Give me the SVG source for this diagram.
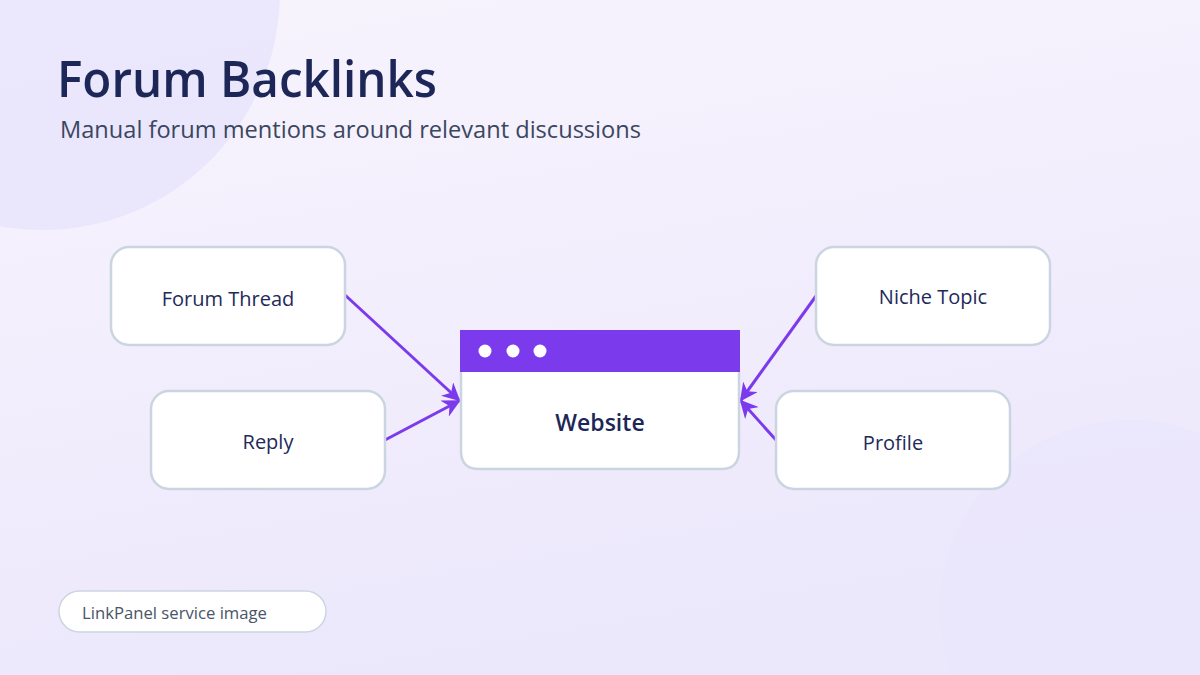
<svg xmlns="http://www.w3.org/2000/svg" width="1200" height="675" viewBox="0 0 1200 675">
<defs>
<linearGradient id="bg" x1="0" y1="0" x2="0.3" y2="1">
<stop offset="0" stop-color="#f8f4fd"/>
<stop offset="1" stop-color="#ece8fc"/>
</linearGradient>
<marker id="arr" viewBox="0 0 10 10" refX="9" refY="5" markerWidth="6" markerHeight="6" orient="auto" markerUnits="strokeWidth">
<path d="M0,0 L10,5 L0,10 L3,5 Z" fill="#7c3aed"/>
</marker>
<style>
.box{fill:#ffffff;stroke:#cbd5e1;stroke-width:2.5}
.lbl{font-family:"Open Sans","Noto Sans",sans-serif;font-size:20px;fill:#1e2a5a;text-anchor:middle}
.conn{stroke:#7c3aed;stroke-width:3;fill:none;marker-end:url(#arr)}
</style>
</defs>
<rect width="1200" height="675" fill="url(#bg)"/>
<circle cx="42" cy="-8" r="238" fill="#e9e5fd" opacity="0.9"/>
<circle cx="1130" cy="610" r="190" fill="#e9e4fc" opacity="0.6"/>
<text x="57" y="97" font-family="'Open Sans','Noto Sans',sans-serif" font-size="50" font-weight="600" fill="#1c2757" textLength="380" lengthAdjust="spacingAndGlyphs">Forum Backlinks</text>
<text x="60" y="138" font-family="'Open Sans','Noto Sans',sans-serif" font-size="23" fill="#3b4660" textLength="581" lengthAdjust="spacingAndGlyphs">Manual forum mentions around relevant discussions</text>
<g id="connectors">
<line class="conn" x1="345" y1="295" x2="459" y2="400"/>
<line class="conn" x1="385" y1="440" x2="459" y2="401"/>
<line class="conn" x1="816" y1="296" x2="741" y2="400"/>
<line class="conn" x1="776" y1="440" x2="741" y2="401"/>
</g>
<g id="forum-thread">
<rect class="box" x="111" y="247" width="234" height="98" rx="18"/>
<text class="lbl" x="228" y="306">Forum Thread</text>
</g>
<g id="reply">
<rect class="box" x="151" y="391" width="234" height="98" rx="18"/>
<text class="lbl" x="268" y="449">Reply</text>
</g>
<g id="niche-topic">
<rect class="box" x="816" y="247" width="234" height="98" rx="18"/>
<text class="lbl" x="933" y="304">Niche Topic</text>
</g>
<g id="profile">
<rect class="box" x="776" y="391" width="234" height="98" rx="18"/>
<text class="lbl" x="893" y="450">Profile</text>
</g>
<g id="website">
<path d="M461,372 L461,451 Q461,469 479,469 L721,469 Q739,469 739,451 L739,372" fill="#ffffff" stroke="#cbd5e1" stroke-width="2.5"/>
<rect x="460" y="330" width="280" height="42" fill="#7c3aed"/>
<circle cx="485" cy="351" r="6.5" fill="#ffffff"/>
<circle cx="513" cy="351" r="6.5" fill="#ffffff"/>
<circle cx="540" cy="351" r="6.5" fill="#ffffff"/>
<text x="600" y="431" font-family="'Open Sans','Noto Sans',sans-serif" font-size="23" font-weight="600" fill="#1c2757" text-anchor="middle">Website</text>
</g>
<g id="footer">
<rect x="59" y="591" width="267" height="41" rx="20.5" fill="#ffffff" stroke="#cbd5e1" stroke-width="1.5"/>
<text x="82" y="619" font-family="'Open Sans','Noto Sans',sans-serif" font-size="17" fill="#4a5568" textLength="185" lengthAdjust="spacingAndGlyphs">LinkPanel service image</text>
</g>
</svg>
